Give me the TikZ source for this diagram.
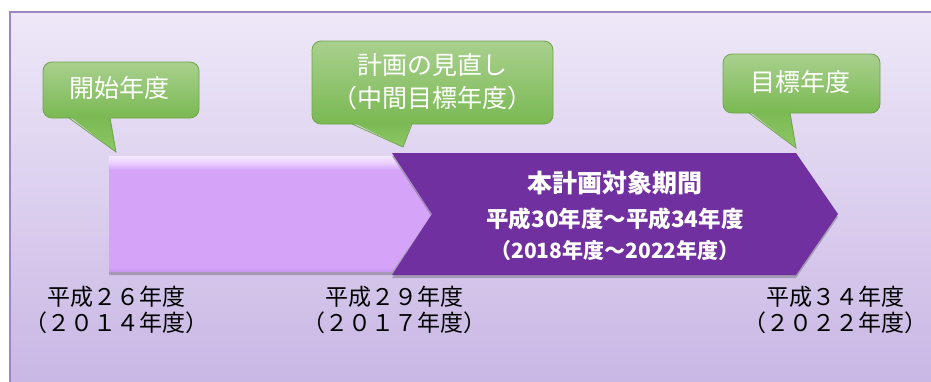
\documentclass[tikz,border=0pt]{standalone}
\usepackage{fontspec}
\setmainfont{Noto Sans CJK JP}
\usetikzlibrary{shadows,fadings}
\definecolor{panelTop}{HTML}{EEE8F8}
\definecolor{panelBot}{HTML}{C8B6E4}
\definecolor{panelBorder}{HTML}{9C86C8}
\definecolor{gTop}{HTML}{A9D08E}
\definecolor{gMid}{HTML}{6FAE45}
\definecolor{gBot}{HTML}{7AB953}
\definecolor{gTip}{HTML}{8CC865}
\definecolor{gBorder}{HTML}{6FA44A}
\definecolor{darkbar}{HTML}{7030A0}
\definecolor{lbA}{HTML}{C593EC}
\definecolor{lbB}{HTML}{D5A4F9}
\definecolor{lbC}{HTML}{EBCFFF}
\definecolor{lbD}{HTML}{F6E8FF}
\pgfdeclareverticalshading{lightbar}{100bp}{%
  color(0bp)=(lbA); color(25bp)=(lbA); color(27bp)=(lbB);
  color(69bp)=(lbB); color(72bp)=(lbC); color(75bp)=(lbD); color(100bp)=(lbD)}
\tikzset{
  callbox/.style={top color=gTop, middle color=gMid, bottom color=gBot,
    draw=gBorder, line width=0.8pt, rounded corners=9pt},
  tailfill/.style={top color=gBot, bottom color=gTip},
  tailedge/.style={draw=gBorder, line width=0.8pt, line join=miter},
  ctext/.style={text=white, font=\fontsize{25}{33}\selectfont, align=center, inner sep=0pt},
  bartext/.style={text=white, inner sep=0pt},
  ylabel/.style={text=black, font=\fontsize{23}{26}\selectfont, align=center, inner sep=0pt},
  barshadow/.style={drop shadow={shadow xshift=0pt, shadow yshift=-3pt, opacity=0.35, fill=black!70}}
}
\begin{document}
\begin{tikzpicture}[x=1pt,y=-1pt]
\useasboundingbox (0,0) rectangle (931,381);
\fill[white] (0,0) rectangle (931,381);
% panel
\shade[top color=panelTop, bottom color=panelBot] (10,12) rectangle (940,390);
\draw[panelBorder, line width=1.2pt] (10,390) -- (10,12) -- (940,12);

% light bar
\shade[shading=lightbar, barshadow] (109,156) -- (392,156) -- (432,214) -- (392,272) -- (109,272) -- cycle;
% dark bar
\fill[darkbar, barshadow] (392,153) -- (796,153) -- (838,214) -- (796,275) -- (392,275) -- (432,214) -- cycle;

% callout 1
\shade[callbox] (43,62) rectangle (199,118);
\shade[tailfill] (69,116) -- (116,152) -- (110,116) -- cycle;
\draw[tailedge] (69,118) -- (116,152) -- (110,118);
\node[ctext] (c1) at (119,88) {開始年度};

% callout 2
\shade[callbox] (312,41) rectangle (553,124);
\shade[tailfill] (352,122) -- (403,147) -- (412,122) -- cycle;
\draw[tailedge] (352,124) -- (403,147) -- (412,124);
\node[ctext] (c2) at (432,82) {計画の見直し\\（中間目標年度）};

% callout 3
\shade[callbox] (723,54) rectangle (880,113);
\shade[tailfill] (749,111) -- (796,148) -- (790,111) -- cycle;
\draw[tailedge] (749,113) -- (796,148) -- (790,113);
\node[ctext] (c3) at (800,82) {目標年度};

% bar text
\node[bartext, font=\fontsize{25}{25}\selectfont\bfseries] (b1) at (615,183) {本計画対象期間};
\node[bartext, font=\fontsize{22.5}{22}\selectfont\bfseries] (b2) at (615,219) {平成30年度～平成34年度};
\node[bartext, font=\fontsize{21}{20}\selectfont\bfseries] (b3) at (615,251) {（2018年度～2022年度）};

% year labels
\node[ylabel] (y1) at (116,310) {平成２６年度\\（２０１４年度）};
\node[ylabel] (y2) at (394,310) {平成２９年度\\（２０１７年度）};
\node[ylabel] (y3) at (835,310) {平成３４年度\\（２０２２年度）};
\end{tikzpicture}
\end{document}
